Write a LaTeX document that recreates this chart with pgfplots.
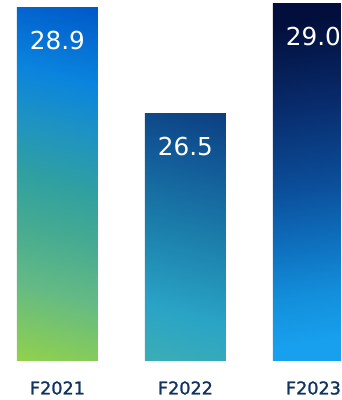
\documentclass[border=0pt]{standalone}
\usepackage{pgfplots}
\pgfplotsset{compat=1.18}
\usepackage{fontspec}
\setmainfont{DejaVu Sans}
\newfontfamily\tickfont[FakeBold=1.3]{DejaVu Sans}
% bar 1 colours
\definecolor{a0}{HTML}{92D24C}
\definecolor{a1}{HTML}{64BA84}
\definecolor{a2}{HTML}{45AA92}
\definecolor{a3}{HTML}{30A0A0}
\definecolor{a4}{HTML}{2195BE}
\definecolor{a5}{HTML}{0A84DE}
\definecolor{a6}{HTML}{0058C8}
% bar 2 colours
\definecolor{b0}{HTML}{3CADB6}
\definecolor{b1}{HTML}{2AA4C6}
\definecolor{b2}{HTML}{1C80AC}
\definecolor{b3}{HTML}{125A98}
\definecolor{b4}{HTML}{0B3F80}
% bar 3 colours
\definecolor{c0}{HTML}{18A0EE}
\definecolor{c1}{HTML}{138FDB}
\definecolor{c2}{HTML}{0E72C0}
\definecolor{c3}{HTML}{0B4C98}
\definecolor{c4}{HTML}{082A6A}
\definecolor{c5}{HTML}{020F3C}
\definecolor{ticknavy}{HTML}{12335F}
\pgfdeclareverticalshading{barA}{100bp}{color(0bp)=(a0); color(19bp)=(a0); color(32bp)=(a1); color(42bp)=(a2); color(50bp)=(a3); color(58bp)=(a4); color(68bp)=(a5); color(81bp)=(a6); color(100bp)=(a6)}
\pgfdeclareverticalshading{barB}{100bp}{color(0bp)=(b0); color(19bp)=(b0); color(32bp)=(b1); color(50bp)=(b2); color(68bp)=(b3); color(81bp)=(b4); color(100bp)=(b4)}
\pgfdeclareverticalshading{barC}{100bp}{color(0bp)=(c0); color(25bp)=(c0); color(32.5bp)=(c1); color(40bp)=(c2); color(50bp)=(c3); color(62.5bp)=(c4); color(75bp)=(c5); color(100bp)=(c5)}
\begin{document}
\begin{tikzpicture}
\useasboundingbox (0pt,0pt) rectangle (341pt,400pt);
\clip (0pt,0pt) rectangle (341pt,400pt);
\begin{axis}[
  at={(0pt,40pt)}, anchor=south west, scale only axis,
  x=128pt, y=44pt,
  xmin=-0.449, xmax=2.215, ymin=0, ymax=8.1818,
  enlargelimits=false,
  axis line style={draw=none}, major tick length=0pt,
  ytick=\empty,
  xtick={0,1,2}, xticklabels={F2021,F2022,F2023},
  xticklabel style={anchor=center, yshift=-28pt, text=ticknavy,
    font=\fontsize{17.6}{20}\tickfont},
  ybar, bar width=81pt, bar shift=0pt,
  y filter/.expression={y-20.9},
  point meta=rawy,
  nodes near coords={\pgfmathprintnumber[assume math mode=true,fixed,fixed zerofill,precision=1]{\pgfplotspointmeta}},
  every node near coord/.append style={anchor=center, yshift=-33pt, text=white,
    font=\fontsize{24.7}{28}\selectfont},
  clip=true,
]
\addplot[draw=none, shading=barA, shading angle=-15] coordinates {(0,28.9)};
\addplot[draw=none, shading=barB, shading angle=-15] coordinates {(1,26.5)};
\addplot[draw=none, shading=barC, shading angle=8] coordinates {(2,29.0)};
\end{axis}
\end{tikzpicture}
\end{document}
